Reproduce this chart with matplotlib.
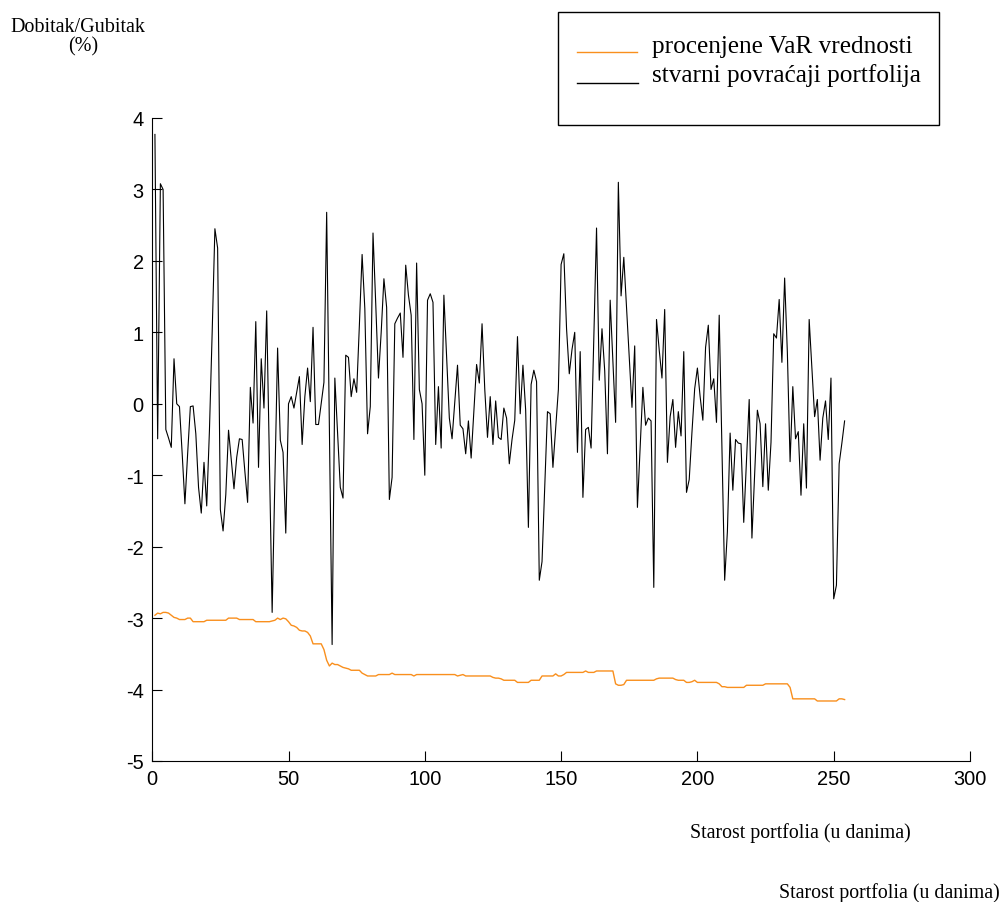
import numpy as np
import matplotlib
matplotlib.use('Agg')
import matplotlib.pyplot as plt
from matplotlib.lines import Line2D
from matplotlib.patches import Rectangle

# daily portfolio return (%), one value per day
returns = [
    3.77, -0.49, 3.08, 3.00, -0.36, -0.48, -0.61, 0.63, 0.00, -0.04,
    -0.70, -1.40, -0.70, -0.04, -0.03, -0.42, -1.17, -1.53, -0.82, -1.43,
    -0.37, 1.00, 2.45, 2.18, -1.48, -1.78, -1.27, -0.37, -0.78, -1.19,
    -0.75, -0.49, -0.50, -0.95, -1.38, 0.23, -0.27, 1.15, -0.89, 0.63,
    -0.06, 1.30, -0.81, -2.92, -1.07, 0.78, -0.51, -0.68, -1.81, 0.00,
    0.10, -0.06, 0.16, 0.38, -0.57, 0.10, 0.50, 0.03, 1.07, -0.29,
    -0.29, 0.00, 0.30, 2.68, -0.35, -3.37, 0.36, -0.40, -1.17, -1.32,
    0.68, 0.65, 0.10, 0.35, 0.16, 1.10, 2.09, 1.33, -0.42, -0.04,
    2.39, 1.40, 0.36, 1.00, 1.75, 1.35, -1.34, -1.03, 1.12, 1.20,
    1.27, 0.65, 1.94, 1.52, 1.24, -0.50, 1.97, 0.20, 0.00, -1.00,
    1.45, 1.54, 1.42, -0.57, 0.24, -0.62, 1.52, 0.67, -0.20, -0.49,
    0.02, 0.54, -0.30, -0.35, -0.70, -0.24, -0.76, -0.10, 0.55, 0.29,
    1.12, 0.20, -0.47, 0.10, -0.57, 0.04, -0.47, -0.50, -0.06, -0.20,
    -0.84, -0.50, -0.23, 0.94, -0.14, 0.54, -0.09, -1.73, 0.27, 0.47,
    0.31, -2.47, -2.21, -1.15, -0.11, -0.14, -0.89, -0.35, 0.20, 1.95,
    2.10, 1.05, 0.42, 0.76, 1.00, -0.68, 0.73, -1.31, -0.36, -0.33,
    -0.62, 0.90, 2.46, 0.33, 1.05, 0.46, -0.70, 1.45, 0.60, -0.26,
    3.10, 1.51, 2.05, 1.35, 0.65, -0.05, 0.81, -1.45, -0.60, 0.23,
    -0.30, -0.20, -0.24, -2.57, 1.18, 0.75, 0.36, 1.32, -0.82, -0.18,
    0.06, -0.61, -0.11, -0.45, 0.73, -1.24, -1.06, -0.40, 0.21, 0.50,
    0.10, -0.23, 0.79, 1.10, 0.20, 0.35, -0.26, 1.24, -0.60, -2.47,
    -1.79, -0.41, -1.21, -0.50, -0.55, -0.56, -1.66, -0.80, 0.06, -1.88,
    -1.00, -0.09, -0.28, -1.16, -0.28, -1.21, -0.54, 0.98, 0.92, 1.46,
    0.58, 1.76, 0.72, -0.81, 0.24, -0.49, -0.39, -1.28, -0.28, -1.18,
    1.18, 0.50, -0.18, 0.06, -0.79, -0.20, 0.04, -0.50, 0.36, -2.73,
    -2.54, -0.84, -0.55, -0.24,
]

# estimated VaR (%) for the same days
var_est = [
    -2.96, -2.93, -2.94, -2.92, -2.92, -2.93, -2.96, -2.99, -3.00, -3.02,
    -3.02, -3.02, -3.00, -3.00, -3.05, -3.05, -3.05, -3.05, -3.05, -3.03,
    -3.03, -3.03, -3.03, -3.03, -3.03, -3.03, -3.03, -3.00, -3.00, -3.00,
    -3.00, -3.02, -3.02, -3.02, -3.02, -3.02, -3.02, -3.05, -3.05, -3.05,
    -3.05, -3.05, -3.05, -3.04, -3.03, -3.00, -3.02, -3.00, -3.01, -3.05,
    -3.10, -3.11, -3.13, -3.17, -3.18, -3.18, -3.20, -3.25, -3.36, -3.36,
    -3.36, -3.36, -3.44, -3.59, -3.67, -3.63, -3.65, -3.65, -3.67, -3.69,
    -3.70, -3.71, -3.73, -3.73, -3.73, -3.73, -3.77, -3.79, -3.81, -3.81,
    -3.81, -3.81, -3.79, -3.79, -3.79, -3.79, -3.79, -3.77, -3.79, -3.79,
    -3.79, -3.79, -3.79, -3.79, -3.79, -3.81, -3.79, -3.79, -3.79, -3.79,
    -3.79, -3.79, -3.79, -3.79, -3.79, -3.79, -3.79, -3.79, -3.79, -3.79,
    -3.79, -3.81, -3.80, -3.79, -3.81, -3.81, -3.81, -3.81, -3.81, -3.81,
    -3.81, -3.81, -3.81, -3.81, -3.83, -3.84, -3.84, -3.85, -3.87, -3.87,
    -3.87, -3.87, -3.87, -3.90, -3.90, -3.90, -3.90, -3.90, -3.87, -3.87,
    -3.87, -3.87, -3.81, -3.81, -3.81, -3.81, -3.81, -3.78, -3.81, -3.81,
    -3.79, -3.76, -3.76, -3.76, -3.76, -3.76, -3.76, -3.76, -3.74, -3.76,
    -3.76, -3.76, -3.74, -3.74, -3.74, -3.74, -3.74, -3.74, -3.74, -3.92,
    -3.94, -3.94, -3.93, -3.87, -3.87, -3.87, -3.87, -3.87, -3.87, -3.87,
    -3.87, -3.87, -3.87, -3.87, -3.85, -3.84, -3.84, -3.84, -3.84, -3.84,
    -3.84, -3.86, -3.87, -3.87, -3.87, -3.90, -3.90, -3.89, -3.87, -3.90,
    -3.90, -3.90, -3.90, -3.90, -3.90, -3.90, -3.90, -3.92, -3.96, -3.96,
    -3.97, -3.97, -3.97, -3.97, -3.97, -3.97, -3.97, -3.94, -3.94, -3.94,
    -3.94, -3.94, -3.94, -3.94, -3.92, -3.92, -3.92, -3.92, -3.92, -3.92,
    -3.92, -3.92, -3.92, -3.97, -4.13, -4.13, -4.13, -4.13, -4.13, -4.13,
    -4.13, -4.13, -4.13, -4.16, -4.16, -4.16, -4.16, -4.16, -4.16, -4.16,
    -4.16, -4.13, -4.13, -4.14,
]

# days are counted from 1
days = np.arange(1, len(returns) + 1)
x_ticks = [0, 50, 100, 150, 200, 250, 300]
y_ticks = [-5, -4, -3, -2, -1, 0, 1, 2, 3, 4]

orange = '#f98f1d'
W, H = 1003, 903

matplotlib.rcParams['axes.unicode_minus'] = False
matplotlib.rcParams['font.family'] = 'Liberation Sans'


def fx(px):
    return px / W


def fy(py):
    return 1 - py / H


fig = plt.figure(figsize=(W / 100, H / 100), dpi=100)
ax = fig.add_axes([fx(152.2), fy(762), fx(970) - fx(152.2), (762 - 119) / H])

ax.plot(days, returns, color='black', lw=0.8, zorder=3)
ax.plot(days, var_est, color=orange, lw=1.0, zorder=3)

ax.set_xlim(0, 300)
ax.set_ylim(-5, 4)
ax.set_xticks(x_ticks)
ax.set_yticks(y_ticks)
ax.spines['top'].set_visible(False)
ax.spines['right'].set_visible(False)
for s in ('left', 'bottom'):
    ax.spines[s].set_linewidth(0.8)
ax.tick_params(direction='in', length=7, width=0.8, labelsize=14.4, pad=6)

serif = 'Liberation Serif'
fig.text(fx(78.3), fy(32.3), 'Dobitak/Gubitak', ha='center', va='baseline',
         family=serif, size=14.5)
fig.text(fx(82.7), fy(51), '(%)', ha='center', va='baseline', family=serif, size=14.5)
fig.text(fx(800.3), fy(838.3), 'Starost portfolia (u danima)', ha='center',
         va='baseline', family=serif, size=14.3)
fig.text(fx(1000), fy(898.3), 'Starost portfolia (u danima)', ha='right',
         va='baseline', family=serif, size=14.3)

# legend box drawn by hand, sits above the axes
box = Rectangle((fx(557.7), fy(126)), fx(939) - fx(557.7), (126 - 13.3) / H,
                transform=fig.transFigure, fill=False, ec='black', lw=1.0)
fig.add_artist(box)
fig.add_artist(Line2D([fx(576.7), fx(636.7)], [fy(53), fy(53)], color=orange,
                      lw=1.0, transform=fig.transFigure))
fig.add_artist(Line2D([fx(576.7), fx(638)], [fy(84), fy(84)], color='black',
                      lw=1.0, transform=fig.transFigure))
fig.text(fx(651.7), fy(52.7), 'procenjene VaR vrednosti', va='baseline',
         family=serif, size=18.2)
fig.text(fx(651.7), fy(81.7), 'stvarni povraćaji portfolija', va='baseline',
         family=serif, size=18.2)

fig.savefig('out.png', dpi=100)
